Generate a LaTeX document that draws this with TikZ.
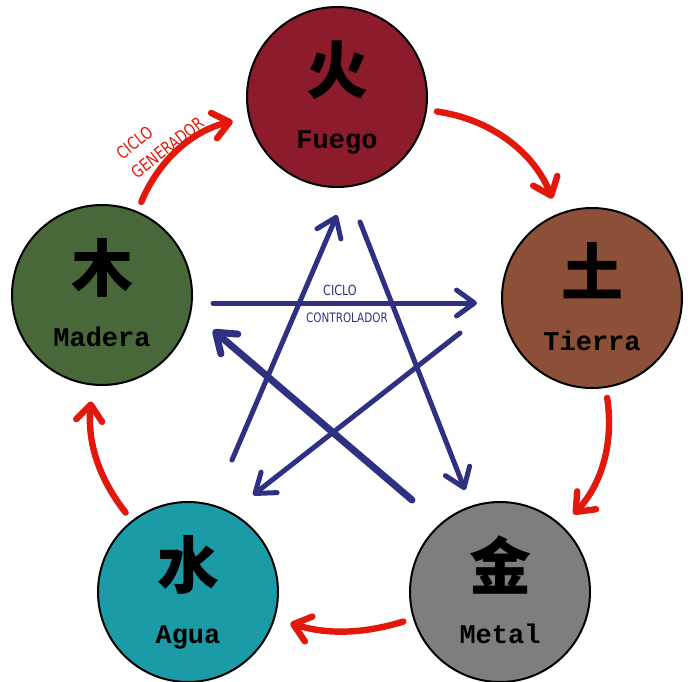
\documentclass[tikz,border=0pt]{standalone}
\usepackage{fontspec}
\usetikzlibrary{arrows.meta}

\newfontfamily\cjk{Noto Sans CJK SC}
\newfontfamily\mono{Liberation Mono}
\newfontfamily\mano[FakeStretch=0.8]{DejaVu Sans}

\definecolor{fuegoc}{HTML}{8C1C2B}
\definecolor{tierrac}{HTML}{8B5037}
\definecolor{metalc}{HTML}{7E7E7E}
\definecolor{aguac}{HTML}{1A9BA6}
\definecolor{maderac}{HTML}{48683A}
\definecolor{rojo}{HTML}{E2180C}
\definecolor{azul}{HTML}{2E3182}

\tikzstyle{elemento}=[circle, draw=black, line width=1pt, minimum size=90pt, inner sep=0pt]
\tikzstyle{hanzi}=[font=\cjk\bfseries\fontsize{31pt}{31pt}\selectfont, inner sep=0pt]
\tikzstyle{nombre}=[font=\mono\bfseries\fontsize{13.5pt}{14pt}\selectfont, anchor=base, inner sep=0pt]
\tikzstyle{generador}=[draw=rojo, line width=3.2pt, line cap=round, -{Straight Barb[length=8pt,width=13pt,round]}, shorten <=5pt, shorten >=8pt]
\tikzstyle{control}=[draw=azul, line width=2.5pt, line cap=round, -{Straight Barb[length=9pt,width=13pt,round]}]

\begin{document}
\begin{tikzpicture}[x=0.5pt, y=-0.5pt]
	            \useasboundingbox (0,0) rectangle (690,681);

	            % Elementos
	            \node[elemento, fill=fuegoc] (fuego) at (337,97) {};
	            \node[hanzi] (fuego-zi) at ([yshift=13.5pt]fuego.center) {火};
	            \node[nombre] (fuego-txt) at ([yshift=-25.5pt]fuego.center) {Fuego};

	            \node[elemento, fill=tierrac] (tierra) at (592,298) {};
	            \node[hanzi] (tierra-zi) at ([yshift=13.5pt]tierra.center) {土};
	            \node[nombre] (tierra-txt) at ([yshift=-26pt]tierra.center) {Tierra};

	            \node[elemento, fill=metalc] (metal) at (500,592) {};
	            \node[hanzi] (metal-zi) at ([yshift=13.5pt]metal.center) {金};
	            \node[nombre] (metal-txt) at ([yshift=-25.5pt]metal.center) {Metal};

	            \node[elemento, fill=aguac] (agua) at (188,592) {};
	            \node[hanzi] (agua-zi) at ([yshift=13.5pt]agua.center) {水};
	            \node[nombre] (agua-txt) at ([yshift=-25.5pt]agua.center) {Agua};

	            \node[elemento, fill=maderac] (madera) at (102,295) {};
	            \node[hanzi] (madera-zi) at ([yshift=13.5pt]madera.center) {木};
	            \node[nombre] (madera-txt) at ([yshift=-25.5pt]madera.center) {Madera};

	            % Ciclo generador (rojo)
	            \draw[generador] (madera) to[bend left=27] (fuego);
	            \draw[generador] (fuego) to[bend left=30] (tierra);
	            \draw[generador] (tierra) to[bend left=26] (metal);
	            \draw[generador] (metal) to[bend left=17] (agua);
	            \draw[generador] (agua) to[bend left=22] (madera);
	            \node[rojo, font=\mano\fontsize{8.5pt}{12pt}\selectfont, rotate=38, align=left] (gen-txt) at (160,138) {CICLO\\GENERADOR};

	            % Ciclo controlador (azul)
	            \coordinate (agua-out) at (232,460);
	            \coordinate (agua-in) at (253,495);
	            \coordinate (fuego-out) at (360,222);
	            \coordinate (fuego-in) at (337,215);
	            \coordinate (madera-out) at (213,303);
	            \coordinate (madera-in) at (213,330);
	            \coordinate (tierra-out) at (460,333);
	            \coordinate (tierra-in) at (477,303);
	            \coordinate (metal-out) at (412,500);
	            \coordinate (metal-in) at (465,490);

	            \draw[control] (agua-out) -- (fuego-in);
	            \draw[control] (fuego-out) -- (metal-in);
	            \draw[control] (madera-out) -- (tierra-in);
	            \draw[control, line width=3.5pt] (metal-out) -- (madera-in);
	            \draw[control] (tierra-out) -- (agua-in);
	            \node[azul, font=\mano\fontsize{7pt}{7pt}\selectfont] (ctrl-txt1) at (340,290) {CICLO};
	            \node[azul, font=\mano\fontsize{6.5pt}{7pt}\selectfont] (ctrl-txt2) at (347,318) {CONTROLADOR};
	        \end{tikzpicture}
\end{document}
